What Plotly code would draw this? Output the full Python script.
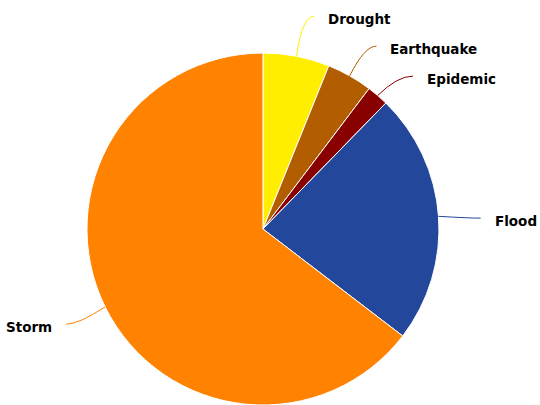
import math
import plotly.graph_objects as go

labels = ["Drought", "Earthquake", "Epidemic", "Flood", "Storm"]
values = [6.1, 4.2, 2.0, 23.1, 64.6]
colors = ["#FFEE00", "#B25E00", "#880000", "#23479A", "#FF8200"]

W, H = 540, 405
dom_x = [0.157, 0.817]
dom_y = [0.0, 0.8691]

fig = go.Figure(go.Pie(
    labels=labels, values=values, sort=False, direction="clockwise", rotation=0,
    marker=dict(colors=colors, line=dict(color="white", width=1)),
    textinfo="none", hoverinfo="label+percent", showlegend=False,
    domain=dict(x=dom_x, y=dom_y),
))

# geometry derived from the domain (pixels, origin top-left of figure)
cx = (dom_x[0] + dom_x[1]) / 2 * W
cy = H - (dom_y[0] + dom_y[1]) / 2 * H
r = min((dom_x[1] - dom_x[0]) * W, (dom_y[1] - dom_y[0]) * H) / 2
dist = 30
Rl = r + dist
gap = 30
pad = 12
yshift = 4

def px(x):
    return x / W

def py(y):
    return 1 - y / H

total = sum(values)
cum = 0
items = []
for lab, v, c in zip(labels, values, colors):
    mid = (cum + v / 2) / total * 2 * math.pi
    cum += v
    side = 1 if math.sin(mid) >= 0 else -1
    tgt = cy - Rl * math.cos(mid) + yshift
    items.append(dict(label=lab, color=c, th=mid, side=side, v=v, t=tgt, y=tgt))

# distribute labels on each side to avoid overlap (value-weighted clusters)
for s in (1, -1):
    grp = sorted([it for it in items if it["side"] == s], key=lambda d: d["t"])
    clusters = [[it] for it in grp]
    changed = True
    while changed:
        changed = False
        for cl in clusters:
            m = sum(it["t"] * it["v"] for it in cl) / sum(it["v"] for it in cl)
            start = m - gap * (len(cl) - 1) / 2
            for k, it in enumerate(cl):
                it["y"] = start + k * gap
        for i in range(len(clusters) - 1):
            if clusters[i + 1][0]["y"] - clusters[i][-1]["y"] < gap:
                clusters[i] = clusters[i] + clusters[i + 1]
                del clusters[i + 1]
                changed = True
                break

shapes = []
annotations = []
for it in items:
    th, s, y = it["th"], it["side"], it["y"]
    ex, ey = cx + r * math.sin(th), cy - r * math.cos(th)
    radial = Rl * abs(math.sin(th))
    circ = math.sqrt(max(0.0, Rl ** 2 - (y - cy) ** 2))
    xe = cx + s * (max(radial, circ) + 12)
    qx = cx + Rl * math.sin(th)
    qx = qx if abs(qx - cx) < abs(xe - cx) else xe - s * 4
    path = f"M {px(ex)},{py(ey)} Q {px(qx)},{py(y)} {px(xe)},{py(y)}"
    shapes.append(dict(type="path", path=path, xref="paper", yref="paper",
                       line=dict(color=it["color"], width=1)))
    annotations.append(dict(
        x=px(xe + s * pad), y=py(y + 2.5), xref="paper", yref="paper",
        text="<b>" + it["label"] + "</b>", showarrow=False,
        xanchor="left" if s > 0 else "right", yanchor="middle",
        font=dict(family="DejaVu Sans", size=13.5, color="#000000"),
    ))

fig.update_layout(
    width=W, height=H, autosize=False,
    margin=dict(l=0, r=0, t=0, b=0),
    paper_bgcolor="white", plot_bgcolor="white",
    shapes=shapes, annotations=annotations,
)

fig.write_html(
    "out.html",
    config={"displayModeBar": False},
    post_script="document.body.style.margin='0';document.body.style.overflow='hidden';",
)
